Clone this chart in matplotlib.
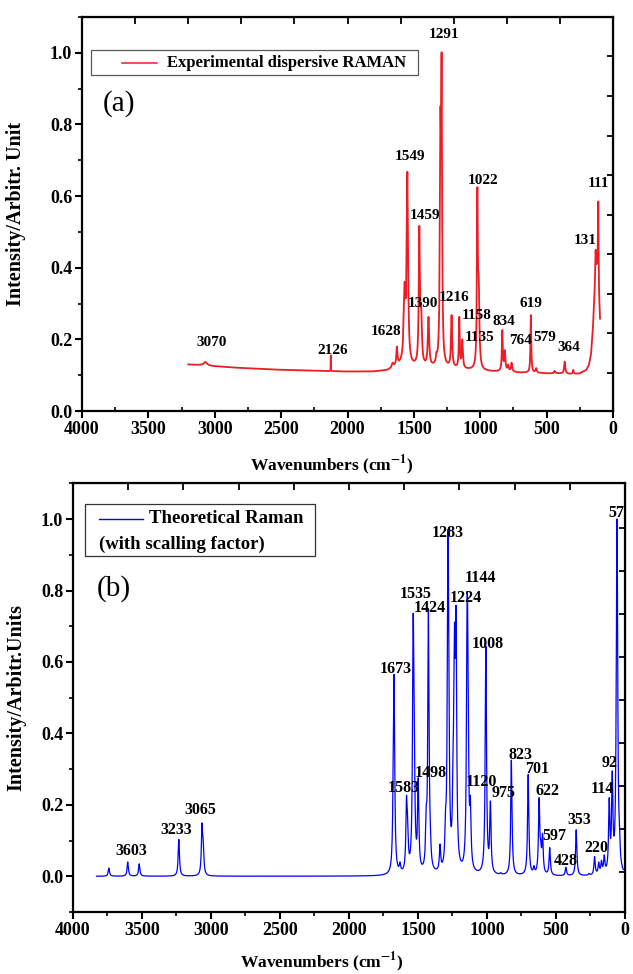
import numpy as np
import matplotlib.pyplot as plt
from matplotlib.ticker import MultipleLocator
from matplotlib.patches import Rectangle
from matplotlib.lines import Line2D

plt.rcParams['font.family'] = ['Liberation Serif', 'DejaVu Serif']
plt.rcParams['font.weight'] = 'bold'
plt.rcParams['mathtext.fontset'] = 'stix'

# ---------------- (a) experimental dispersive Raman ----------------
# smooth background (wavenumber, intensity)
exp_base_x = [3200, 3100, 3000, 2800, 2500, 2200, 2000, 1800, 1700, 1650, 1600, 1500,
              1400, 1300, 1200, 1100, 1000, 900, 800, 700, 600, 500, 400, 300, 250,
              200, 180, 165, 150, 140, 131, 120, 111, 105, 98]
exp_base_y = [0.130, 0.128, 0.125, 0.120, 0.115, 0.112, 0.110, 0.110, 0.113, 0.120, 0.125, 0.122,
              0.120, 0.120, 0.118, 0.115, 0.112, 0.110, 0.110, 0.107, 0.107, 0.105, 0.105, 0.103, 0.105,
              0.115, 0.130, 0.160, 0.240, 0.320, 0.380, 0.400, 0.380, 0.300, 0.250]
# peaks: position, intensity at the top, width
exp_pos = [3070, 2126, 1660, 1628, 1570, 1549, 1459, 1445, 1390, 1330, 1300, 1291,
           1216, 1158, 1135, 1022, 1012, 834, 815, 790, 764, 619, 579, 440, 364, 300, 131, 111]
exp_top = [0.137, 0.155, 0.135, 0.180, 0.360, 0.668, 0.517, 0.300, 0.263, 0.165, 0.846, 1.000,
           0.268, 0.263, 0.200, 0.625, 0.380, 0.226, 0.170, 0.130, 0.135, 0.268, 0.120, 0.112, 0.138, 0.115, 0.450, 0.585]
exp_fwhm = [30, 1.5, 15, 10, 16, 12, 10, 12, 12, 10, 10, 8,
            10, 8, 10, 8, 12, 8, 10, 10, 10, 7, 10, 10, 10, 8, 6, 5]

exp_labels = ['3070', '2126', '1628', '1549', '1459', '1390', '1291', '1216', '1158',
              '1135', '1022', '834', '764', '619', '579', '364', '131', '111']
exp_lab_x = [3020, 2115, 1710, 1529, 1416, 1431, 1273, 1198, 1024,
             1002, 979, 821, 700, 618, 512, 331, 211, 113]
exp_lab_y = [0.19, 0.17, 0.223, 0.712, 0.547, 0.30, 1.05, 0.316, 0.268,
             0.204, 0.645, 0.249, 0.198, 0.30, 0.204, 0.176, 0.475, 0.634]

# ---------------- (b) theoretical Raman ----------------
th_pos = [3740, 3603, 3520, 3233, 3065, 3056, 1680, 1673, 1630, 1583, 1575, 1560,
          1535, 1528, 1510, 1498, 1440, 1430, 1424, 1410, 1340, 1300, 1283, 1278,
          1245, 1235, 1224, 1144, 1138, 1120, 1015, 1008, 975, 900, 823, 701, 660,
          622, 610, 597, 545, 428, 353, 260, 220, 190, 170, 150, 114, 92, 62, 57, 40]
th_top = [0.023, 0.040, 0.035, 0.103, 0.149, 0.100, 0.290, 0.565, 0.040, 0.225, 0.170, 0.060,
          0.730, 0.550, 0.100, 0.275, 0.190, 0.330, 0.730, 0.140, 0.090, 0.190, 0.950, 0.820,
          0.380, 0.710, 0.755, 0.775, 0.700, 0.225, 0.200, 0.625, 0.210, 0.010, 0.325, 0.285, 0.030,
          0.220, 0.100, 0.120, 0.080, 0.025, 0.130, 0.008, 0.055, 0.040, 0.045, 0.060, 0.220, 0.295, 0.660, 1.000, 0.150]
th_fwhm = 11

th_labels = ['3603', '3233', '3065', '1673', '1583', '1535', '1498', '1424', '1283', '1224',
             '1144', '1120', '1008', '975', '823', '701', '622', '597', '428', '353',
             '220', '114', '92', '57']
th_lab_x = [3580, 3254, 3080, 1659, 1601, 1514, 1406, 1413, 1283, 1152,
            1051, 1040, 993, 878, 754, 638, 558, 514, 428, 333,
            210, 167, 109, 65]
th_lab_y = [0.07, 0.13, 0.185, 0.58, 0.246, 0.79, 0.29, 0.75, 0.96, 0.78,
            0.834, 0.263, 0.65, 0.232, 0.34, 0.30, 0.24, 0.112, 0.042, 0.157,
            0.078, 0.243, 0.316, 1.018]


def spectrum(x, pos, top, fwhm, base_x=None, base_y=None):
    """Lorentzian lines whose summed height matches the read-off peak tops."""
    pos = np.asarray(pos, float)
    g = np.broadcast_to(np.asarray(fwhm, float) / 2.0, pos.shape)
    if base_x is None:
        base = lambda v: np.zeros_like(v)
    else:
        bx = np.asarray(base_x, float)[::-1]
        by = np.asarray(base_y, float)[::-1]
        base = lambda v: np.interp(v, bx, by)
    A = 1.0 / (1.0 + ((pos[:, None] - pos[None, :]) / g[None, :]) ** 2)
    h = np.clip(np.linalg.solve(A, np.asarray(top, float) - base(pos)), 0, None)
    lines = h[None, :] / (1.0 + ((x[:, None] - pos[None, :]) / g[None, :]) ** 2)
    return base(x) + lines.sum(axis=1)


x_exp = np.arange(98, 3200, 0.5)
y_exp = spectrum(x_exp, exp_pos, exp_top, exp_fwhm, exp_base_x, exp_base_y)
x_th = np.arange(12, 3830, 0.5)
y_th = spectrum(x_th, th_pos, th_top, th_fwhm)

fig = plt.figure(figsize=(6.33, 9.74), dpi=100)
ax1 = fig.add_axes([0.1295, 0.578, 0.839, 0.4045])
ax2 = fig.add_axes([0.1153, 0.0637, 0.872, 0.440])


def style_axes(ax, minor_dir, right_ticks):
    ax.set_xlim(4000, 0)
    ax.xaxis.set_major_locator(MultipleLocator(500))
    ax.xaxis.set_minor_locator(MultipleLocator(250))
    ax.yaxis.set_major_locator(MultipleLocator(0.2))
    ax.yaxis.set_minor_locator(MultipleLocator(0.1))
    ax.yaxis.set_major_formatter(plt.FormatStrFormatter('%.1f'))
    ax.tick_params(which='major', direction='out', length=5, width=1.5, labelsize=13, pad=2)
    ax.tick_params(axis='y', which='minor', direction='out', length=3, width=1.2)
    ax.tick_params(axis='x', which='minor', direction=minor_dir, length=3, width=1.2)
    for s in ax.spines.values():
        s.set_linewidth(1.6)
    top = ax.secondary_xaxis('top')
    top.set_xticks(np.arange(400, 4000, 400))
    top.tick_params(direction='in', length=5, width=1.3, labeltop=False)
    right = ax.secondary_yaxis('right')
    right.set_yticks(right_ticks)
    right.tick_params(direction='in', length=4, width=1.3, labelright=False)


# ---- panel (a) ----
ax1.plot(x_exp, y_exp, color='#ee1c25', lw=1.3)
ax1.set_ylim(0, 1.1)
style_axes(ax1, 'in', np.linspace(0.106, 0.99, 9))
ax1.set_ylabel('Intensity/Arbitr. Unit', fontsize=14.5, fontweight='bold')
ax1.yaxis.set_label_coords(-0.105, 0.5)
ax1.set_xlabel(r'Wavenumbers (cm$^{\mathbf{-1}}$)', fontsize=12.5, fontweight='bold')
ax1.xaxis.set_label_coords(0.47, -0.108)
for t, lx, ly in zip(exp_labels, exp_lab_x, exp_lab_y):
    ax1.text(lx, ly, t, fontsize=11, fontweight='bold', ha='center', va='center')
ax1.add_patch(Rectangle((0.017, 0.853), 0.616, 0.063, transform=ax1.transAxes,
                        fill=False, edgecolor='0.35', lw=0.9))
ax1.add_line(Line2D([0.075, 0.141], [0.884, 0.884], transform=ax1.transAxes,
                    color='#ee1c25', lw=1.1))
ax1.text(0.16, 0.884, 'Experimental dispersive RAMAN', transform=ax1.transAxes,
         fontsize=12, fontweight='bold', va='center', ha='left')
ax1.text(0.04, 0.78, '(a)', transform=ax1.transAxes, fontsize=21,
         fontweight='normal', va='center', ha='left')

# ---- panel (b) ----
ax2.plot(x_th, y_th, color='#0000ff', lw=0.9)
ax2.set_ylim(-0.1, 1.1)
style_axes(ax2, 'out', np.linspace(0.011, 0.976, 9))
ax2.set_ylabel('Intensity/Arbitr.Units', fontsize=14.5, fontweight='bold')
ax2.yaxis.set_label_coords(-0.085, 0.5)
ax2.set_xlabel(r'Wavenumbers (cm$^{\mathbf{-1}}$)', fontsize=12.5, fontweight='bold')
ax2.xaxis.set_label_coords(0.45, -0.09)
for t, lx, ly in zip(th_labels, th_lab_x, th_lab_y):
    ax2.text(lx, ly, t, fontsize=11.5, fontweight='bold', ha='center', va='center')
ax2.add_patch(Rectangle((0.022, 0.830), 0.416, 0.121, transform=ax2.transAxes,
                        fill=False, edgecolor='0.2', lw=0.9))
ax2.add_line(Line2D([0.047, 0.127], [0.918, 0.918], transform=ax2.transAxes,
                    color='#0000ff', lw=1.0))
ax2.text(0.138, 0.918, 'Theoretical Raman', transform=ax2.transAxes,
         fontsize=13.5, fontweight='bold', va='center', ha='left')
ax2.text(0.047, 0.858, '(with scalling factor)', transform=ax2.transAxes,
         fontsize=13.5, fontweight='bold', va='center', ha='left')
ax2.text(0.043, 0.755, '(b)', transform=ax2.transAxes, fontsize=21,
         fontweight='normal', va='center', ha='left')

fig.savefig('out.png', dpi=100)
